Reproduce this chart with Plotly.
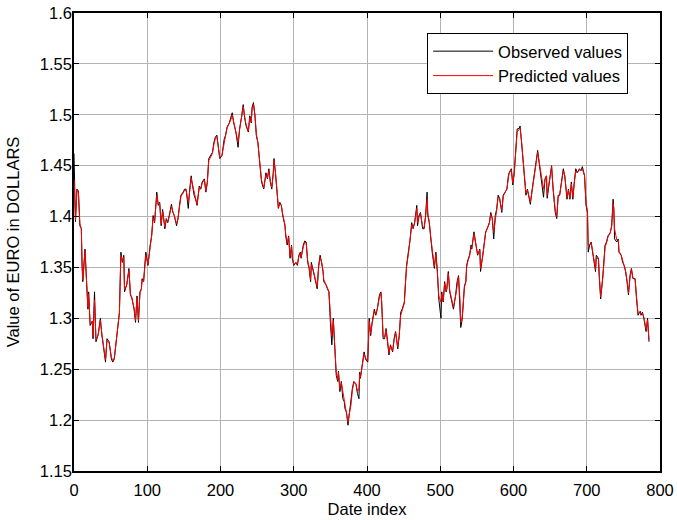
import plotly.graph_objects as go

# Date index and observed EURO/USD values
obs_idx = [0, 1, 2, 4, 6, 8, 10, 11, 12, 15, 17, 19, 20, 22, 25, 26, 28, 30, 33, 36, 38, 41, 43, 45, 48, 51, 53, 55, 58, 60, 62, 64, 66, 68, 69, 72, 75, 77, 79, 82, 84, 86, 88, 90, 92, 93, 95, 98, 101, 104, 106, 108, 110, 113, 115, 117, 119, 121, 124, 126, 128,
           130, 133, 135, 137, 140, 142, 144, 146, 149, 151, 153, 156, 158, 160, 161, 164, 166, 168, 171, 173, 175, 178, 180, 182, 184, 187, 189, 191, 193, 195, 197, 199, 202, 205, 207, 209, 212, 214, 216, 218, 221, 224, 226, 229, 231, 233, 235, 238, 240, 242, 243, 245, 247, 249, 251, 253,
           256, 259, 262, 264, 266, 268, 270, 272, 273, 275, 278, 279, 281, 283, 285, 288, 289, 291, 293, 295, 297, 298, 300, 303, 305, 307, 309, 310, 313, 315, 317, 319, 321, 323, 324, 326, 329, 330, 332, 334, 336, 338, 340, 341, 344, 346, 348, 350, 352, 354, 356, 358, 360, 361, 363, 365, 367, 369, 370, 372, 374, 376, 378, 380, 382,
           385, 387, 389, 390, 391, 394, 396, 398, 401, 403, 405, 407, 410, 412, 414, 417, 419, 420, 422, 424, 426, 428, 430, 432, 435, 437, 439, 442, 444, 446, 448, 451, 452, 454, 457, 459, 461, 463, 465, 468, 469, 471, 473, 476, 478, 480, 482, 483, 485, 487, 489, 492, 494, 496, 498, 501, 502, 504, 506, 508, 509, 511, 513, 515, 518,
           521, 523, 525, 527, 528, 530, 533, 535, 536, 538, 540, 542, 543, 546, 549, 551, 554, 555, 558, 560, 562, 564, 567, 569, 571, 573, 575, 577, 579, 581, 584, 586, 588, 591, 593, 594, 597, 599, 601, 603, 605, 608, 609, 611, 613, 615, 617, 619, 621, 623, 625, 627, 629, 631, 633, 635, 637, 639, 641, 643, 645,
           646, 649, 651, 652, 654, 657, 659, 661, 663, 666, 668, 670, 671, 673, 675, 677, 679, 681, 683, 685, 687, 690, 692, 694, 697, 699, 701, 702, 704, 706, 708, 710, 712, 713, 716, 717, 719, 722, 723, 725, 727, 729, 732, 734, 736, 737, 738, 741, 743, 744, 747, 749, 751, 753, 755, 757, 759, 761, 763, 766, 768, 770, 773, 774, 776, 778, 781, 783, 785]

observed = [1.462, 1.400, 1.395, 1.427, 1.425, 1.391, 1.388, 1.352, 1.336, 1.368, 1.329, 1.309, 1.326, 1.293, 1.297, 1.280, 1.326, 1.277, 1.284, 1.300, 1.284, 1.270, 1.257, 1.280, 1.277, 1.260, 1.257, 1.260, 1.280, 1.290, 1.306, 1.365, 1.355, 1.362, 1.326, 1.333, 1.349, 1.323, 1.320, 1.309, 1.296, 1.322, 1.296, 1.326, 1.329, 1.339, 1.336, 1.365, 1.352, 1.372, 1.381, 1.401, 1.394, 1.424, 1.411, 1.414, 1.391, 1.407, 1.388, 1.398, 1.394,
            1.401, 1.412, 1.404, 1.401, 1.391, 1.398, 1.411, 1.421, 1.424, 1.427, 1.427, 1.408, 1.427, 1.440, 1.434, 1.421, 1.417, 1.411, 1.430, 1.427, 1.434, 1.437, 1.424, 1.434, 1.457, 1.460, 1.463, 1.473, 1.478, 1.480, 1.466, 1.457, 1.460, 1.476, 1.480, 1.488, 1.492, 1.496, 1.502, 1.492, 1.483, 1.468, 1.486, 1.499, 1.510, 1.497, 1.489, 1.483, 1.499, 1.492, 1.507, 1.512, 1.499, 1.479, 1.473, 1.457,
            1.434, 1.427, 1.443, 1.437, 1.447, 1.434, 1.427, 1.443, 1.457, 1.443, 1.414, 1.408, 1.414, 1.411, 1.401, 1.391, 1.381, 1.372, 1.381, 1.359, 1.372, 1.359, 1.352, 1.355, 1.352, 1.362, 1.365, 1.359, 1.372, 1.376, 1.375, 1.355, 1.349, 1.336, 1.355, 1.349, 1.339, 1.336, 1.329, 1.352, 1.362, 1.355, 1.346, 1.336, 1.333, 1.329, 1.326, 1.296, 1.274, 1.300, 1.264, 1.244, 1.238, 1.248, 1.228, 1.238, 1.221, 1.218, 1.211, 1.208, 1.195, 1.208, 1.215, 1.231, 1.238,
            1.235, 1.226, 1.221, 1.247, 1.241, 1.257, 1.267, 1.260, 1.257, 1.300, 1.283, 1.296, 1.309, 1.303, 1.309, 1.323, 1.326, 1.316, 1.280, 1.280, 1.290, 1.277, 1.264, 1.274, 1.267, 1.280, 1.287, 1.270, 1.283, 1.306, 1.309, 1.316, 1.332, 1.352, 1.368, 1.378, 1.394, 1.388, 1.394, 1.411, 1.391, 1.401, 1.404, 1.388, 1.388, 1.401, 1.424, 1.401, 1.394, 1.378, 1.365, 1.349, 1.365, 1.346, 1.319, 1.300, 1.326, 1.316, 1.336, 1.326, 1.329, 1.346, 1.326, 1.319, 1.309,
            1.323, 1.336, 1.342, 1.316, 1.291, 1.299, 1.332, 1.336, 1.352, 1.358, 1.362, 1.372, 1.368, 1.385, 1.372, 1.362, 1.368, 1.346, 1.362, 1.375, 1.385, 1.388, 1.394, 1.404, 1.398, 1.378, 1.401, 1.407, 1.421, 1.418, 1.404, 1.421, 1.424, 1.427, 1.440, 1.443, 1.447, 1.431, 1.443, 1.466, 1.486, 1.487, 1.489, 1.473, 1.453, 1.437, 1.421, 1.427, 1.418, 1.412, 1.424, 1.434, 1.447, 1.456, 1.465, 1.453, 1.443, 1.430, 1.419, 1.437, 1.440,
            1.418, 1.434, 1.447, 1.450, 1.427, 1.404, 1.398, 1.421, 1.421, 1.434, 1.447, 1.440, 1.430, 1.417, 1.427, 1.417, 1.434, 1.417, 1.434, 1.447, 1.443, 1.447, 1.445, 1.449, 1.440, 1.411, 1.404, 1.365, 1.372, 1.375, 1.365, 1.355, 1.346, 1.362, 1.359, 1.342, 1.319, 1.342, 1.355, 1.372, 1.375, 1.381, 1.384, 1.391, 1.417, 1.407, 1.378, 1.375, 1.378, 1.365, 1.362, 1.355, 1.352, 1.346, 1.336, 1.323, 1.342, 1.349, 1.339, 1.339, 1.319, 1.303, 1.307, 1.303, 1.306, 1.300, 1.287, 1.300, 1.277]

# Predicted values (nearly identical to the observed one)
pred_idx = obs_idx
predicted = [1.436, 1.397, 1.397, 1.426, 1.424, 1.393, 1.388, 1.355, 1.338, 1.366, 1.331, 1.311, 1.324, 1.295, 1.297, 1.283, 1.318, 1.279, 1.284, 1.298, 1.285, 1.271, 1.259, 1.278, 1.276, 1.262, 1.258, 1.261, 1.279, 1.290, 1.305, 1.362, 1.356, 1.360, 1.328, 1.333, 1.347, 1.324, 1.320, 1.310, 1.298, 1.320, 1.298, 1.324, 1.329, 1.338, 1.336, 1.362, 1.353, 1.370, 1.381, 1.399, 1.395, 1.421, 1.412, 1.413, 1.393, 1.405, 1.390, 1.397, 1.395,
             1.400, 1.410, 1.405, 1.401, 1.393, 1.398, 1.409, 1.420, 1.423, 1.426, 1.426, 1.414, 1.425, 1.438, 1.434, 1.422, 1.418, 1.412, 1.428, 1.427, 1.433, 1.436, 1.425, 1.433, 1.455, 1.459, 1.462, 1.471, 1.477, 1.479, 1.467, 1.458, 1.460, 1.474, 1.480, 1.487, 1.491, 1.495, 1.500, 1.493, 1.484, 1.473, 1.485, 1.498, 1.508, 1.498, 1.490, 1.484, 1.497, 1.493, 1.505, 1.510, 1.500, 1.481, 1.473, 1.458,
             1.436, 1.428, 1.441, 1.438, 1.445, 1.435, 1.429, 1.441, 1.455, 1.444, 1.416, 1.409, 1.413, 1.411, 1.402, 1.392, 1.383, 1.374, 1.380, 1.361, 1.371, 1.360, 1.353, 1.354, 1.353, 1.361, 1.364, 1.360, 1.370, 1.375, 1.374, 1.357, 1.350, 1.338, 1.353, 1.349, 1.340, 1.337, 1.331, 1.350, 1.360, 1.355, 1.347, 1.338, 1.334, 1.330, 1.326, 1.299, 1.283, 1.298, 1.267, 1.247, 1.240, 1.247, 1.231, 1.237, 1.228, 1.220, 1.213, 1.209, 1.198, 1.207, 1.214, 1.229, 1.237,
             1.236, 1.228, 1.231, 1.245, 1.242, 1.255, 1.265, 1.261, 1.258, 1.297, 1.285, 1.295, 1.307, 1.304, 1.309, 1.321, 1.325, 1.317, 1.283, 1.281, 1.289, 1.278, 1.266, 1.273, 1.268, 1.279, 1.286, 1.272, 1.283, 1.303, 1.309, 1.315, 1.330, 1.350, 1.366, 1.377, 1.392, 1.389, 1.394, 1.408, 1.394, 1.400, 1.403, 1.390, 1.389, 1.400, 1.417, 1.403, 1.395, 1.380, 1.367, 1.351, 1.363, 1.347, 1.322, 1.316, 1.324, 1.317, 1.334, 1.327, 1.329, 1.344, 1.327, 1.320, 1.311,
             1.322, 1.334, 1.341, 1.318, 1.296, 1.301, 1.330, 1.336, 1.350, 1.357, 1.361, 1.370, 1.369, 1.383, 1.373, 1.363, 1.367, 1.349, 1.361, 1.373, 1.384, 1.388, 1.393, 1.402, 1.398, 1.385, 1.399, 1.406, 1.419, 1.418, 1.406, 1.420, 1.423, 1.427, 1.438, 1.442, 1.446, 1.433, 1.442, 1.463, 1.483, 1.486, 1.487, 1.474, 1.455, 1.439, 1.423, 1.426, 1.419, 1.414, 1.423, 1.433, 1.445, 1.455, 1.463, 1.454, 1.444, 1.432, 1.427, 1.436, 1.440,
             1.421, 1.433, 1.445, 1.449, 1.429, 1.406, 1.400, 1.419, 1.421, 1.433, 1.445, 1.440, 1.431, 1.419, 1.426, 1.418, 1.432, 1.419, 1.433, 1.445, 1.443, 1.446, 1.445, 1.447, 1.440, 1.414, 1.405, 1.372, 1.372, 1.374, 1.366, 1.356, 1.348, 1.360, 1.358, 1.344, 1.321, 1.340, 1.353, 1.370, 1.374, 1.380, 1.384, 1.390, 1.413, 1.407, 1.388, 1.377, 1.377, 1.366, 1.362, 1.356, 1.352, 1.347, 1.337, 1.325, 1.340, 1.348, 1.340, 1.338, 1.321, 1.305, 1.306, 1.304, 1.305, 1.301, 1.289, 1.298, 1.279]

x_ticks = [0, 100, 200, 300, 400, 500, 600, 700, 800]
y_ticks = [1.15, 1.2, 1.25, 1.3, 1.35, 1.4, 1.45, 1.5, 1.55, 1.6]
y_tick_text = ["1.15", "1.2", "1.25", "1.3", "1.35", "1.4", "1.45", "1.5", "1.55", "1.6"]

FONT = "Liberation Sans, Arial, sans-serif"

fig = go.Figure()
fig.add_trace(go.Scatter(x=obs_idx, y=observed, mode="lines", name="Observed values",
                         line=dict(color="#000000", width=1)))
fig.add_trace(go.Scatter(x=pred_idx, y=predicted, mode="lines", name="Predicted values",
                         line=dict(color="#ff0000", width=1)))

axis_common = dict(showgrid=True, gridcolor="#b4b4b4", gridwidth=1, zeroline=False,
                   showline=True, linecolor="#000000", linewidth=1.5, mirror="ticks",
                   ticks="inside", ticklen=5, tickcolor="#000000", tickwidth=1,
                   ticklabeloverflow="allow",
                   tickfont=dict(family=FONT, size=16.5, color="#000000"))

fig.update_xaxes(range=[0, 800], tickvals=x_ticks, ticktext=[str(v) for v in x_ticks],
                 ticklabelstandoff=3,
                 title=dict(text="Date index", font=dict(family=FONT, size=16.5, color="#000000"), standoff=6),
                 **axis_common)
fig.update_yaxes(range=[1.15, 1.6], tickvals=y_ticks, ticktext=y_tick_text,
                 ticklabelstandoff=-3,
                 title=dict(text="Value of EURO in DOLLARS", font=dict(family=FONT, size=16.5, color="#000000"), standoff=16),
                 **axis_common)

fig.update_layout(
    width=677, height=520,
    margin=dict(l=74, r=17, t=13, b=49, autoexpand=False),
    plot_bgcolor="#ffffff", paper_bgcolor="#ffffff",
    font=dict(family=FONT, size=16.5, color="#000000"),
    legend=dict(x=0.6025, y=0.9565, xanchor="left", yanchor="top",
                bgcolor="#ffffff", bordercolor="#000000", borderwidth=1,
                itemwidth=60, tracegroupgap=0,
                font=dict(family=FONT, size=16.5, color="#000000")),
    showlegend=True,
)

# Remove the browser's default 8px body margin so the figure fills the window.
fig.write_html("out.html", config={"displayModeBar": False},
               post_script="document.body.style.margin='0px';")
